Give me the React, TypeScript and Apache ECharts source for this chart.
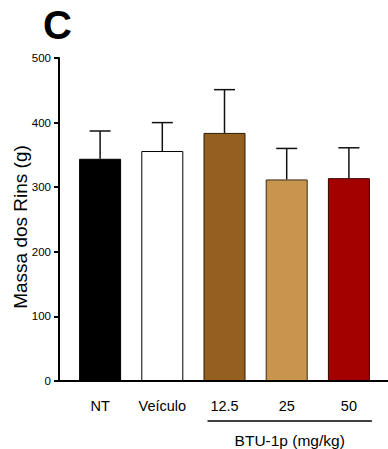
import React, { useEffect, useRef } from "react";
import * as echarts from "echarts";

const categories = ["NT", "Veículo", "12.5", "25", "50"];
const means = [344, 356, 384, 312, 314];
const sds = [43, 44, 67, 48, 47];
const barColors = ["#000000", "#ffffff", "#936020", "#C8954F", "#A30000"];
const borderColors = ["#000000", "#000000", "#2a1a08", "#3a2a18", "#3a0000"];
const yTicks = [0, 100, 200, 300, 400, 500];
const yName = "Massa dos Rins (g)";
const groupLabel = "BTU-1p (mg/kg)";

export default function App() {
  const ref = useRef<HTMLDivElement>(null);
  useEffect(() => {
    document.body.style.margin = "0";
    const chart = echarts.init(ref.current!, undefined, { renderer: "svg" });
    const font = "'Liberation Sans', Arial, sans-serif";
    chart.setOption({
      animation: false,
      backgroundColor: "#ffffff",
      grid: { left: 69, right: 8, top: 58, bottom: 68, containLabel: false },
      title: {
        text: "C",
        left: 38,
        top: 0,
        textStyle: { fontFamily: font, fontWeight: "bold", fontSize: 40, color: "#000" },
      },
      xAxis: {
        type: "category",
        data: categories,
        axisLine: { show: false },
        axisTick: { alignWithLabel: true, length: 6, lineStyle: { color: "#000", width: 2 } },
        axisLabel: { interval: 0, color: "#000", fontFamily: font, fontSize: 14.5, margin: 17 },
      },
      yAxis: {
        type: "value",
        min: yTicks[0],
        max: yTicks[yTicks.length - 1],
        interval: 100,
        offset: 10,
        splitLine: { show: false },
        axisLine: { show: true, lineStyle: { color: "#000", width: 2 } },
        axisTick: { show: true, length: 5, lineStyle: { color: "#000", width: 2 } },
        axisLabel: { color: "#000", fontFamily: font, fontSize: 11.5, margin: 8 },
      },
      series: [
        {
          type: "bar",
          barWidth: 42,
          data: means.map((v, i) => ({
            value: v,
            itemStyle: { color: barColors[i], borderColor: borderColors[i], borderWidth: 1 },
          })),
          z: 2,
        },
        {
          type: "custom",
          z: 3,
          data: means.map((v, i) => [i, v, v + sds[i]]),
          renderItem: (params: any, api: any) => {
            const x = api.value(0);
            const base = api.coord([x, api.value(1)]);
            const top = api.coord([x, api.value(2)]);
            const half = 10.5;
            const style = { stroke: "#111", lineWidth: 1.5 };
            return {
              type: "group",
              children: [
                { type: "line", shape: { x1: base[0], y1: base[1], x2: top[0], y2: top[1] }, style },
                { type: "line", shape: { x1: top[0] - half, y1: top[1], x2: top[0] + half, y2: top[1] }, style },
              ],
            };
          },
        },
      ],
    });
    const left = chart.convertToPixel({ xAxisIndex: 0 }, 2) - 17;
    const right = chart.convertToPixel({ xAxisIndex: 0 }, 4) + 23;
    const y0 = chart.convertToPixel({ yAxisIndex: 0 }, 0);
    chart.setOption({
      graphic: [
        {
          type: "line",
          z: 10,
          shape: { x1: 58, y1: y0, x2: 388, y2: y0 },
          style: { stroke: "#000", lineWidth: 2 },
        },
        {
          type: "text",
          x: 20,
          y: 227,
          rotation: Math.PI / 2,
          style: {
            text: yName,
            fill: "#000",
            font: `19px ${font}`,
            textAlign: "center",
            textVerticalAlign: "middle",
          },
        },
        {
          type: "line",
          shape: { x1: left, y1: 421, x2: right, y2: 421 },
          style: { stroke: "#000", lineWidth: 1.5 },
        },
        {
          type: "text",
          x: (left + right) / 2,
          y: 440,
          style: {
            text: groupLabel,
            fill: "#000",
            font: `15.5px ${font}`,
            textAlign: "center",
            textVerticalAlign: "middle",
          },
        },
      ],
    });
    return () => chart.dispose();
  }, []);
  return <div ref={ref} style={{ width: 388, height: 449 }} />;
}
